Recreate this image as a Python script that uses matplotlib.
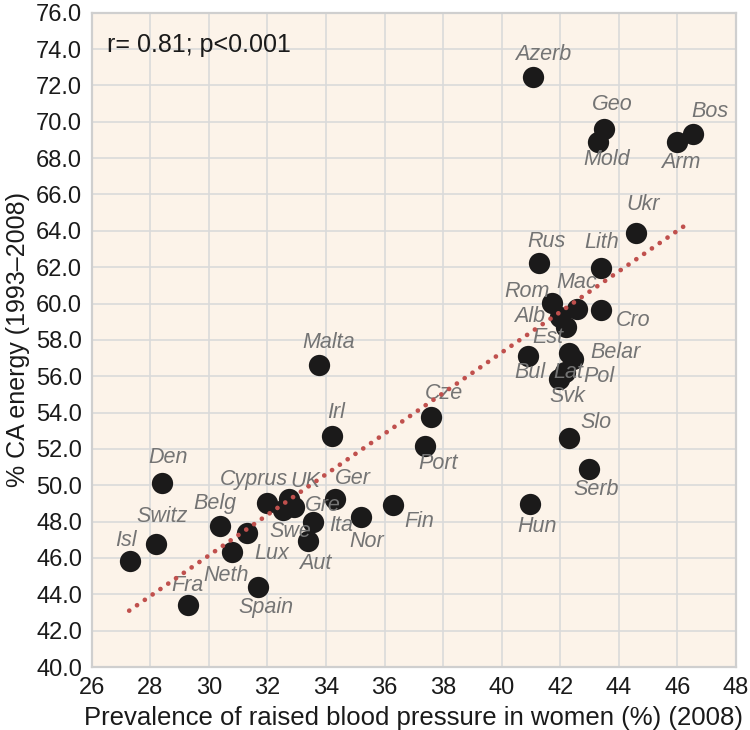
import matplotlib
matplotlib.use("Agg")
import matplotlib.pyplot as plt

# values
countries = ["Isl", "Switz", "Den", "Fra", "Belg", "Neth", "Lux", "Spain",
             "Cyprus", "UK", "Swe", "Gre", "Ita", "Aut", "Ger", "Nor", "Fin",
             "Irl", "Malta", "Cze", "Port", "Hun", "Azerb", "Rus", "Bul",
             "Rom", "Alb", "Est", "Mac", "Cro", "Lith", "Ukr", "Belar", "Pol",
             "Lat", "Svk", "Slo", "Serb", "Geo", "Mold", "Arm", "Bos"]
bp_women = [27.31, 28.19, 28.41, 29.28, 30.38, 30.80, 31.29, 31.69,
            31.97, 32.74, 32.53, 32.91, 33.57, 33.40, 34.31, 35.18, 36.28,
            34.19, 33.77, 37.58, 37.39, 40.96, 41.08, 41.28, 40.91,
            41.71, 41.99, 42.19, 42.58, 43.38, 43.38, 44.58, 42.31, 42.42,
            42.16, 41.96, 42.31, 42.99, 43.49, 43.30, 45.99, 46.54]
ca_energy = [45.85, 46.77, 50.11, 43.41, 47.76, 46.31, 47.39, 44.39,
             49.01, 49.25, 48.64, 48.81, 48.00, 46.95, 49.23, 48.24, 48.92,
             52.73, 56.62, 53.78, 52.18, 48.95, 72.45, 62.22, 57.12,
             60.02, 59.28, 58.73, 59.69, 59.65, 61.98, 63.87, 57.30, 56.93,
             56.25, 55.83, 52.62, 50.90, 69.59, 68.91, 68.91, 69.32]
trend_x = [27.28, 46.40]
trend_y = [43.10, 64.45]
xticks = list(range(26, 49, 2))
yticks = list(range(40, 77, 2))
stat_text = "r= 0.81; p<0.001"

# label placement (pixels from the dot, y up)
label_offsets = {
    "Isl": (-4, 20), "Switz": (6, 27), "Den": (6, 26), "Fra": (0, 20),
    "Belg": (-5, 22), "Neth": (-6, -23), "Lux": (25, -21), "Spain": (8, -20),
    "Cyprus": (-13, 24), "UK": (16, 17), "Swe": (7, -22), "Gre": (29, 1),
    "Ita": (28, -4), "Aut": (7, -23), "Ger": (18, 21), "Nor": (6, -24),
    "Fin": (27, -17), "Irl": (5, 23), "Malta": (9, 22), "Cze": (13, 23),
    "Port": (13, -18), "Hun": (7, -22), "Azerb": (10, 23), "Rus": (7, 22),
    "Bul": (2, -17), "Rom": (-25, 12), "Alb": (-30, 0), "Est": (-18, -11),
    "Mac": (-1, 27), "Cro": (32, -11), "Lith": (1, 25), "Ukr": (7, 29),
    "Belar": (46, 0), "Pol": (26, -17), "Lat": (3, -1), "Svk": (8, -17),
    "Slo": (27, 15), "Serb": (7, -21), "Geo": (8, 25), "Mold": (8, -18),
    "Arm": (4, -21), "Bos": (17, 23),
}

plt.rcParams["font.family"] = ["Liberation Sans", "DejaVu Sans"]

fig = plt.figure(figsize=(7.5, 7.3), dpi=100)
ax = fig.add_axes([0.1223, 0.0863, 0.8590, 0.8963])
ax.set_facecolor("#fcf3e9")

ax.scatter(bp_women, ca_energy, s=235, color="#1b1a1a", zorder=3, linewidths=0)
ax.plot(trend_x, trend_y, color="#c0504d", lw=3.4, linestyle=(0, (0.01, 2.0)),
        dash_capstyle="round", zorder=4)

for name, xv, yv in zip(countries, bp_women, ca_energy):
    dx, dy = label_offsets[name]
    ax.annotate(name, (xv, yv), xytext=(dx, dy), textcoords="offset pixels",
                ha="center", va="center", fontsize=15.5, style="italic",
                color="#747474", zorder=3.5)

ax.text(0.023, 0.951, stat_text, transform=ax.transAxes, fontsize=18,
        color="#1a1a1a", ha="left", va="center", zorder=5)

ax.set_xlim(26, 48)
ax.set_ylim(40, 76)
ax.set_xticks(xticks)
ax.set_xticklabels([str(v) for v in xticks])
ax.set_yticks(yticks)
ax.set_yticklabels(["%.1f" % v for v in yticks])
ax.tick_params(length=0, labelsize=17, colors="#1a1a1a", pad=7)
ax.grid(True, color="#dadada", lw=1.2, zorder=0)
ax.set_axisbelow(True)
for sp in ax.spines.values():
    sp.set_color("#cfcfcf")
    sp.set_linewidth(1.6)

ax.set_xlabel("Prevalence of raised blood pressure in women (%) (2008)",
              fontsize=18.5, color="#1a1a1a", labelpad=5)
ax.set_ylabel("% CA energy (1993\u20132008)", fontsize=18, color="#1a1a1a",
              labelpad=4)

fig.savefig("out.png", dpi=100)
